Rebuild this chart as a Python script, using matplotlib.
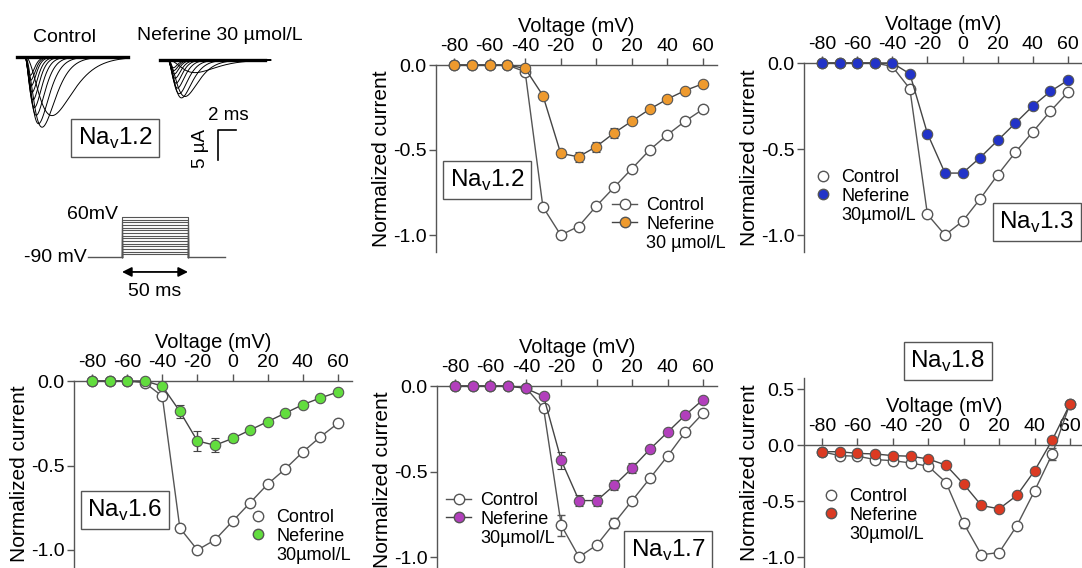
import numpy as np
import matplotlib
matplotlib.use('Agg')
import matplotlib.pyplot as plt
from matplotlib.lines import Line2D

plt.rcParams['font.family'] = ['Liberation Sans', 'DejaVu Sans']
plt.rcParams['mathtext.fontset'] = 'custom'
plt.rcParams['mathtext.rm'] = 'Liberation Sans'
plt.rcParams['axes.unicode_minus'] = False

W, H = 1082, 568

# --- data ---------------------------------------------------------------
volts = [-80, -70, -60, -50, -40, -30, -20, -10, 0, 10, 20, 30, 40, 50, 60]

nav12_ctrl = [0, 0, 0, 0, -0.04, -0.835, -1.0, -0.95, -0.83, -0.72, -0.61, -0.50, -0.41, -0.33, -0.26]
nav12_nef = [0, 0, 0, 0, -0.02, -0.18, -0.52, -0.54, -0.48, -0.40, -0.33, -0.26, -0.20, -0.15, -0.11]
nav12_nef_err = [0, 0, 0, 0, 0.01, 0.01, 0.02, 0.03, 0.03, 0.03, 0.01, 0.01, 0.01, 0.01, 0.01]

nav13_ctrl = [0, 0, 0, 0, -0.02, -0.15, -0.88, -1.0, -0.92, -0.79, -0.65, -0.52, -0.40, -0.28, -0.17]
nav13_nef = [0, 0, 0, 0, 0, -0.063, -0.41, -0.64, -0.64, -0.55, -0.45, -0.35, -0.25, -0.165, -0.10]

nav16_ctrl = [0, 0, 0, -0.01, -0.09, -0.87, -1.0, -0.94, -0.83, -0.72, -0.61, -0.52, -0.42, -0.33, -0.25]
nav16_nef = [0, 0, 0, 0, -0.03, -0.18, -0.355, -0.38, -0.34, -0.29, -0.24, -0.19, -0.14, -0.10, -0.065]
nav16_nef_err = [0, 0, 0, 0, 0.01, 0.04, 0.06, 0.04, 0.02, 0.01, 0.01, 0.01, 0.01, 0.01, 0.01]

nav17_ctrl = [0, 0, 0, 0, -0.01, -0.13, -0.815, -1.0, -0.93, -0.80, -0.67, -0.54, -0.41, -0.27, -0.16]
nav17_ctrl_err = [0, 0, 0, 0, 0, 0.01, 0.06, 0.01, 0.01, 0.03, 0.02, 0.02, 0.01, 0.01, 0.01]
nav17_nef = [0, 0, 0, 0, -0.014, -0.06, -0.435, -0.67, -0.67, -0.58, -0.48, -0.37, -0.27, -0.17, -0.08]
nav17_nef_err = [0, 0, 0, 0, 0, 0.01, 0.05, 0.03, 0.03, 0.03, 0.03, 0.02, 0.01, 0.01, 0.01]

nav18_ctrl = [-0.06, -0.095, -0.10, -0.13, -0.14, -0.16, -0.19, -0.335, -0.70, -0.98, -0.96, -0.72, -0.41, -0.08, 0.37]
nav18_ctrl_err = [0.01, 0.01, 0.01, 0.01, 0.01, 0.01, 0.01, 0.01, 0.04, 0.02, 0.02, 0.01, 0.01, 0.05, 0.01]
nav18_nef = [-0.06, -0.06, -0.075, -0.08, -0.095, -0.10, -0.125, -0.18, -0.35, -0.54, -0.57, -0.45, -0.23, 0.045, 0.366]

# example current traces (Nav1.2), steps -30..60 mV
trace_volts = [-30, -20, -10, 0, 10, 20, 30, 40, 50, 60]
trace_peak_ms = [3.0, 1.9, 1.5, 1.25, 1.05, 0.9, 0.8, 0.7, 0.65, 0.6]
peak_current_ua = 11.7

# pulse protocol
hold_mv = -90
step_ms = 50

# --- figure -------------------------------------------------------------
fig = plt.figure(figsize=(W / 100, H / 100), dpi=100)


def px_axes(x0, y0, x1, y1):
    return fig.add_axes([x0 / W, 1 - y1 / H, (x1 - x0) / W, (y1 - y0) / H])


def box_label(x, y, num):
    fig.text(x / W, 1 - y / H, r'Na$_\mathregular{v}$' + num, fontsize=17.5,
             ha='center', va='center',
             bbox=dict(boxstyle='square,pad=0.27', fc='white', ec='#555555', lw=1))


# panel A: traces
ax_tr = px_axes(0, 40, 300, 170)
ax_tr.set_xlim(-25 / 9, 275 / 9)
ax_tr.set_ylim(-113 / 6, 17 / 6)
ax_tr.axis('off')

t = np.linspace(-0.9, 11.4, 500)
tc = np.clip(t, 0, None)
nef_shift_t = 143 / 9
nef_shift_i = -0.5
for k, v in enumerate(trace_volts):
    i = volts.index(v)
    tp = trace_peak_ms[k]
    shape = (tc / tp) ** 2.6 * np.exp(2.6 * (1 - tc / tp))
    ax_tr.plot(t, nav12_ctrl[i] * peak_current_ua * shape, color='k', lw=0.7)
    ax_tr.plot(t + nef_shift_t, nef_shift_i + nav12_nef[i] * peak_current_ua * shape, color='k', lw=0.7)
ax_tr.plot([-0.9, 11.4], [0, 0], color='k', lw=2.4)
ax_tr.plot([nef_shift_t - 0.9, nef_shift_t + 10.8], [nef_shift_i, nef_shift_i], color='k', lw=2.4)

# scale bar
ax_tr.plot([21.4, 21.4, 23.4], [-17.2, -12.2, -12.2], color='k', lw=1.2)
ax_tr.text(22.6, -9.7, '2 ms', fontsize=13.5, ha='center', va='center')
ax_tr.text(19.5, -15.2, '5 µA', fontsize=13.5, ha='center', va='center', rotation=90)

fig.text(65 / W, 1 - 37 / H, 'Control', fontsize=14, ha='center', va='center')
fig.text(220 / W, 1 - 35 / H, 'Neferine 30 µmol/L', fontsize=14, ha='center', va='center')
box_label(115, 138, '1.2')

# panel A: protocol
ax_pr = px_axes(0, 190, 300, 310)
ax_pr.set_xlim(-122 / 1.32, 178 / 1.32)
ax_pr.set_ylim(-90 - 53 / 0.267, -90 + 67 / 0.267)
ax_pr.axis('off')
for v in volts:
    ax_pr.plot([0, 0, step_ms, step_ms], [hold_mv, v, v, hold_mv], color='#555555', lw=0.8)
ax_pr.plot([-26, 0], [hold_mv, hold_mv], color='#555555', lw=1)
ax_pr.plot([step_ms, step_ms + 28], [hold_mv, hold_mv], color='#555555', lw=1)
ax_pr.annotate('', xy=(0, -146), xytext=(step_ms, -146),
               arrowprops=dict(arrowstyle='<|-|>', color='k', lw=1.3,
                               mutation_scale=14, shrinkA=0, shrinkB=0))
ax_pr.text(step_ms / 2, -221, '50 ms', fontsize=14, ha='center', va='center')
ax_pr.text(-3, 68, '60mV', fontsize=14, ha='right', va='center')
ax_pr.text(-27, hold_mv, '-90 mV', fontsize=14, ha='right', va='center')


def iv_panel(xa, xb, ya, yb, ylim, ctrl, nef, color, ctrl_err=None, nef_err=None):
    sx = (xb - xa) / 140
    sy = (yb - ya)
    xlim = (-80 - 18 / sx, 68)
    left = xa + (xlim[0] + 80) * sx
    right = xa + (xlim[1] + 80) * sx
    top = ya - ylim[1] * sy
    bottom = ya - ylim[0] * sy
    ax = px_axes(left, top, right, bottom)
    ax.set_xlim(xlim)
    ax.set_ylim(ylim)
    ax.errorbar(volts, ctrl, yerr=ctrl_err, fmt='-o', color='#555555', lw=1,
                mfc='white', mec='#555555', mew=1, ms=7.5, capsize=3,
                elinewidth=1, clip_on=False, zorder=3)
    ax.errorbar(volts, nef, yerr=nef_err, fmt='-o', color='#444444', lw=1,
                mfc=color, mec='#555555', mew=0.8, ms=7.5, capsize=3,
                elinewidth=1, clip_on=False, zorder=4)
    for s in ['bottom', 'right']:
        ax.spines[s].set_visible(False)
    ax.spines['top'].set_position(('data', 0))
    for s in ['top', 'left']:
        ax.spines[s].set_color('#555555')
        ax.spines[s].set_linewidth(1)
    ax.xaxis.tick_top()
    ax.xaxis.set_label_position('top')
    ax.set_xticks([-80, -60, -40, -20, 0, 20, 40, 60])
    yt = [-1.0, -0.5, 0.0] + ([0.5] if ylim[1] > 0.4 else [])
    ax.set_yticks(yt)
    ax.set_yticklabels(['%.1f' % v for v in yt])
    ax.tick_params(labelsize=14, length=5, width=1, color='#555555', pad=2)
    ax.set_xlabel('Voltage (mV)', fontsize=14.5, labelpad=4.5)
    ax.set_ylabel('Normalized current', fontsize=15, labelpad=1)
    ax.patch.set_visible(False)
    return ax


def add_legend(ax, x, y, color, with_line, nef_label='30 µmol/L'):
    ls = '-' if with_line else 'none'
    h1 = Line2D([], [], ls=ls, color='#555555', marker='o', mfc='white', mec='#555555', ms=7.5, lw=1)
    h2 = Line2D([], [], ls=ls, color='#444444', marker='o', mfc=color, mec='#555555', ms=7.5, lw=1)
    h3 = Line2D([], [], ls='none')
    ax.legend([h1, h2, h3], ['Control', 'Neferine', nef_label], loc='upper left',
              bbox_to_anchor=(x / W, 1 - y / H), bbox_transform=fig.transFigure,
              frameon=False, fontsize=13, handlelength=1.4 if with_line else 1.0,
              handletextpad=0.5, labelspacing=0.1, borderpad=0, borderaxespad=0)


ax_b = iv_panel(454, 703, 65, 235, (-1.1, 0), nav12_ctrl, nav12_nef, '#EE9A2E', nef_err=nav12_nef_err)
add_legend(ax_b, 612, 197, '#EE9A2E', True)
box_label(487, 180, '1.2')

ax_c = iv_panel(822, 1068, 63, 235, (-1.1, 0), nav13_ctrl, nav13_nef, '#2233C8')
add_legend(ax_c, 814, 169, '#2233C8', False, '30µmol/L')
box_label(1037, 222, '1.3')

ax_d = iv_panel(92, 338, 381, 550, (-1.1, 0), nav16_ctrl, nav16_nef, '#62DD3E', nef_err=nav16_nef_err)
add_legend(ax_d, 249, 509, '#62DD3E', False, '30µmol/L')
box_label(125, 510, '1.6')

ax_e = iv_panel(455, 703, 386, 557, (-1.1, 0), nav17_ctrl, nav17_nef, '#B23FBC',
                ctrl_err=nav17_ctrl_err, nef_err=nav17_nef_err)
add_legend(ax_e, 446, 492, '#B23FBC', True, '30µmol/L')
box_label(668, 550, '1.7')

ax_f = iv_panel(822, 1070, 445, 557, (-1.1, 0.6), nav18_ctrl, nav18_nef, '#DB3A22', ctrl_err=nav18_ctrl_err)
add_legend(ax_f, 822, 488, '#DB3A22', False, '30µmol/L')
box_label(948, 361, '1.8')

fig.savefig('out.png', dpi=100)
